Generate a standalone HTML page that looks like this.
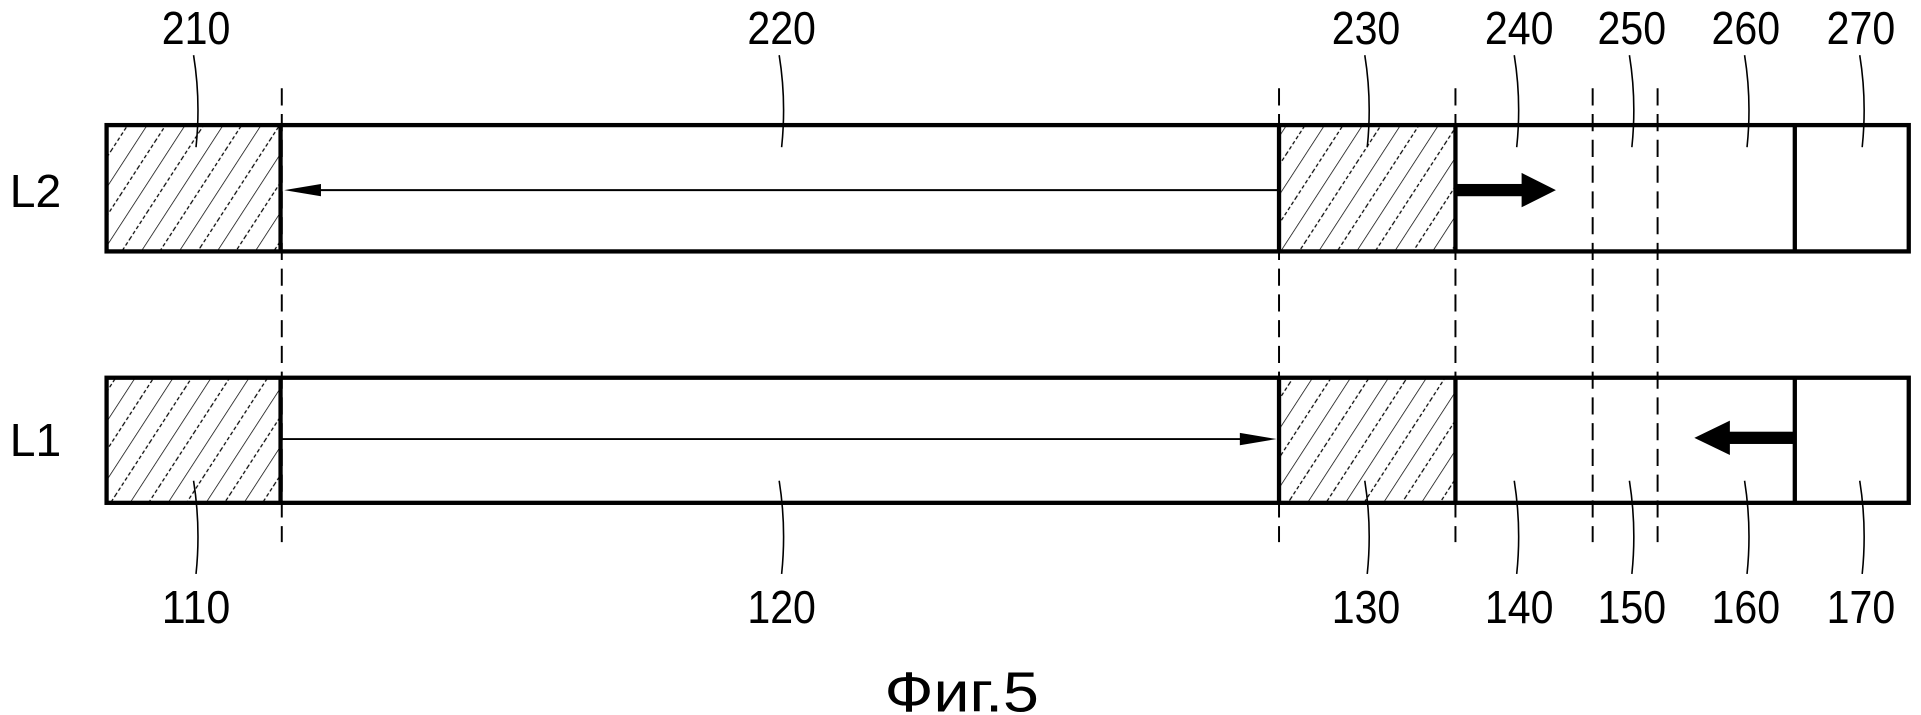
<!DOCTYPE html>
<html><head><meta charset="utf-8"><style>
html,body{margin:0;padding:0;background:#fff;width:1921px;height:715px;overflow:hidden}
svg{display:block}
text{font-family:"Liberation Sans",sans-serif;fill:#000}
</style></head><body>
<svg width="1921" height="715" viewBox="0 0 1568 583" preserveAspectRatio="none" xmlns="http://www.w3.org/2000/svg">
<defs>
<pattern id="h" patternUnits="userSpaceOnUse" width="26" height="26" patternTransform="rotate(33)">
<line x1="0" y1="0" x2="0" y2="26" stroke="#000" stroke-width="1.2"/>
<line x1="13" y1="0" x2="13" y2="26" stroke="#000" stroke-width="1" stroke-dasharray="3 2"/>
</pattern>
</defs>
<rect x="87" y="102" width="142" height="103" fill="url(#h)"/>
<rect x="1044" y="102" width="144" height="103" fill="url(#h)"/>
<rect x="87" y="308" width="142" height="102" fill="url(#h)"/>
<rect x="1044" y="308" width="144" height="102" fill="url(#h)"/>
<g fill="none" stroke="#000" stroke-width="3.5">
<rect x="87" y="102" width="1471" height="103"/>
<rect x="87" y="308" width="1471" height="102"/>
<line x1="229" y1="102" x2="229" y2="205"/><line x1="1044" y1="102" x2="1044" y2="205"/>
<line x1="1188" y1="102" x2="1188" y2="205"/><line x1="1465" y1="102" x2="1465" y2="205"/>
<line x1="229" y1="308" x2="229" y2="410"/><line x1="1044" y1="308" x2="1044" y2="410"/>
<line x1="1188" y1="308" x2="1188" y2="410"/><line x1="1465" y1="308" x2="1465" y2="410"/>
</g>
<g stroke="#000" stroke-width="1.6" stroke-dasharray="14 7">
<line x1="230" y1="72" x2="230" y2="442"/><line x1="1044" y1="72" x2="1044" y2="442"/>
<line x1="1188" y1="72" x2="1188" y2="442"/><line x1="1300" y1="72" x2="1300" y2="442"/>
<line x1="1353" y1="72" x2="1353" y2="442"/>
</g>
<line x1="1044" y1="155" x2="245" y2="155" stroke="#000" stroke-width="1.6"/>
<polygon points="232,155 262,150 262,160" fill="#000"/>
<line x1="230" y1="358" x2="1020" y2="358" stroke="#000" stroke-width="1.6"/>
<polygon points="1042,358 1012,353 1012,363" fill="#000"/>
<rect x="1188" y="150" width="58" height="10" fill="#000"/>
<polygon points="1270,155 1242,141 1242,169" fill="#000"/>
<rect x="1408" y="352" width="57" height="10" fill="#000"/>
<polygon points="1383,357 1412,343 1412,371" fill="#000"/>
<g fill="none" stroke="#000" stroke-width="1.3">
<path d="M158 45 Q164 82 160 120"/><path d="M636 45 Q642 82 638 120"/><path d="M1114 45 Q1120 82 1116 120"/>
<path d="M1236 45 Q1242 82 1238 120"/><path d="M1330 45 Q1336 82 1332 120"/><path d="M1424 45 Q1430 82 1426 120"/><path d="M1518 45 Q1524 82 1520 120"/>
<path d="M158 392 Q164 430 160 468"/><path d="M636 392 Q642 430 638 468"/><path d="M1114 392 Q1120 430 1116 468"/>
<path d="M1236 392 Q1242 430 1238 468"/><path d="M1330 392 Q1336 430 1332 468"/><path d="M1424 392 Q1430 430 1426 468"/><path d="M1518 392 Q1524 430 1520 468"/>
</g>
<g font-size="38" text-anchor="middle" lengthAdjust="spacingAndGlyphs">
<text x="160" y="36" textLength="56" lengthAdjust="spacingAndGlyphs">210</text>
<text x="638" y="36" textLength="56" lengthAdjust="spacingAndGlyphs">220</text>
<text x="1115" y="36" textLength="56" lengthAdjust="spacingAndGlyphs">230</text>
<text x="1240" y="36" textLength="56" lengthAdjust="spacingAndGlyphs">240</text>
<text x="1332" y="36" textLength="56" lengthAdjust="spacingAndGlyphs">250</text>
<text x="1425" y="36" textLength="56" lengthAdjust="spacingAndGlyphs">260</text>
<text x="1519" y="36" textLength="56" lengthAdjust="spacingAndGlyphs">270</text>
<text x="160" y="508" textLength="56" lengthAdjust="spacingAndGlyphs">110</text>
<text x="638" y="508" textLength="56" lengthAdjust="spacingAndGlyphs">120</text>
<text x="1115" y="508" textLength="56" lengthAdjust="spacingAndGlyphs">130</text>
<text x="1240" y="508" textLength="56" lengthAdjust="spacingAndGlyphs">140</text>
<text x="1332" y="508" textLength="56" lengthAdjust="spacingAndGlyphs">150</text>
<text x="1425" y="508" textLength="56" lengthAdjust="spacingAndGlyphs">160</text>
<text x="1519" y="508" textLength="56" lengthAdjust="spacingAndGlyphs">170</text>
<text x="29" y="169" textLength="42" lengthAdjust="spacingAndGlyphs">L2</text>
<text x="29" y="372" textLength="42" lengthAdjust="spacingAndGlyphs">L1</text>
<text x="785" y="580" font-size="46" textLength="126" lengthAdjust="spacingAndGlyphs">Фиг.5</text>
</g>
</svg>
</body></html>
